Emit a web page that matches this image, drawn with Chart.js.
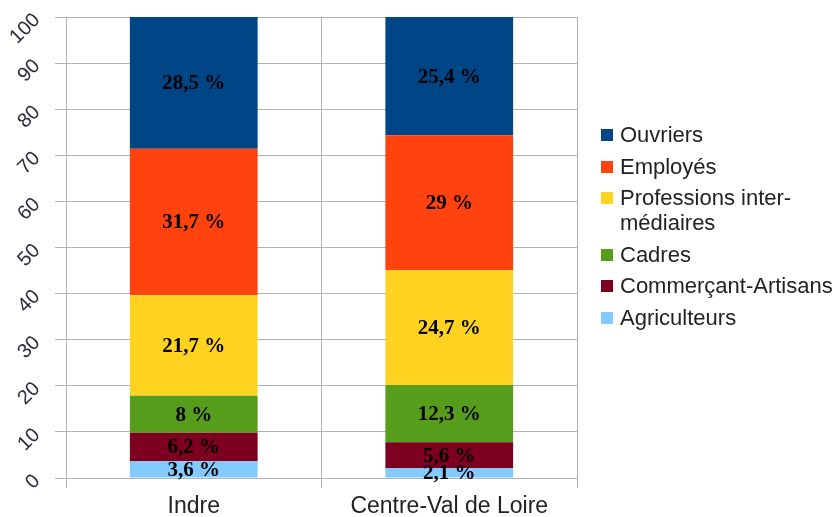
<!DOCTYPE html>
<html>
<head>
<meta charset="utf-8">
<script src="https://cdn.jsdelivr.net/npm/chart.js@4/dist/chart.umd.min.js"></script>
<style>
  html, body { margin: 0; padding: 0; background: #fff; }
  #wrap { position: relative; width: 838px; height: 517px; }
  #legend { position: absolute; left: 601px; top: 122px; font-family: "Liberation Sans", Arial, sans-serif; font-size: 22px; color: #222; }
  .item { position: relative; padding-left: 19px; line-height: 25px; margin-bottom: 6.5px; white-space: pre-line; }
  .box { position: absolute; left: 0; top: 7px; width: 12px; height: 12px; }
</style>
</head>
<body>
<div id="wrap">
  <canvas id="myChart" width="838" height="517"></canvas>
  <div id="legend"></div>
</div>
<script>
const categories = ['Indre', 'Centre-Val de Loire'];
const seriesNames = ['Agriculteurs', 'Commerçant-Artisans', 'Cadres', 'Professions inter-\nmédiaires', 'Employés', 'Ouvriers'];
const seriesColors = ['#83caff', '#7e0021', '#579d1c', '#ffd320', '#ff420e', '#004586'];
const agriculteurs = [3.6, 2.1];
const commercants = [6.2, 5.6];
const cadres = [8, 12.3];
const professions = [21.7, 24.7];
const employes = [31.7, 29];
const ouvriers = [28.5, 25.4];
const yTicks = [0, 10, 20, 30, 40, 50, 60, 70, 80, 90, 100];

const rawSeries = [agriculteurs, commercants, cadres, professions, employes, ouvriers];
// 100% stacked: each column is scaled to its own total
const totals = categories.map((c, i) => rawSeries.reduce((s, arr) => s + arr[i], 0));

const datasets = rawSeries.map((arr, k) => ({
  label: seriesNames[k],
  data: arr.map((v, i) => v / totals[i] * 100),
  raw: arr,
  backgroundColor: seriesColors[k],
  borderWidth: 0,
  barPercentage: 1,
  categoryPercentage: 0.5
}));

const valueLabels = {
  id: 'valueLabels',
  afterDatasetsDraw(chart) {
    const ctx = chart.ctx;
    ctx.save();
    ctx.font = 'bold 21px "Liberation Serif", "Times New Roman", serif';
    ctx.fillStyle = '#000';
    ctx.textAlign = 'center';
    ctx.textBaseline = 'middle';
    chart.data.datasets.forEach((ds, di) => {
      const meta = chart.getDatasetMeta(di);
      meta.data.forEach((bar, i) => {
        const p = bar.getProps(['x', 'y', 'base'], true);
        const txt = String(ds.raw[i]).replace('.', ',') + ' %';
        ctx.fillText(txt, p.x, (p.y + p.base) / 2 + 1);
      });
    });
    ctx.restore();
  }
};

const ctx = document.getElementById('myChart').getContext('2d');
const myChart = new Chart(ctx, {
  type: 'bar',
  data: { labels: categories, datasets: datasets },
  options: {
    responsive: false,
    animation: false,
    layout: { padding: { top: 17, right: 261, left: 0, bottom: 0 } },
    plugins: {
      legend: { display: false },
      tooltip: { enabled: false }
    },
    scales: {
      x: {
        stacked: true,
        grid: { color: '#b3b3b3', offset: true, tickLength: 10 },
        border: { color: '#b3b3b3' },
        ticks: {
          color: '#222',
          padding: 5,
          font: { family: '"Liberation Sans", Arial, sans-serif', size: 23 }
        },
        afterFit(scale) { scale.height = 39; scale.paddingLeft = 0; scale.paddingRight = 0; }
      },
      y: {
        stacked: true,
        min: 0,
        max: 100,
        grid: { color: '#b3b3b3', tickLength: 11 },
        border: { color: '#b3b3b3' },
        ticks: {
          stepSize: 5,
          minRotation: 45,
          maxRotation: 45,
          padding: 18,
          color: '#2b2b3a',
          font: { family: '"Liberation Sans", Arial, sans-serif', size: 20 },
          callback: v => yTicks.includes(v) ? v : ''
        },
        afterFit(scale) { scale.width = 66; scale.paddingTop = 0; scale.paddingBottom = 0; }
      }
    }
  },
  plugins: [valueLabels]
});

// legend, top to bottom in reverse stacking order
const legend = document.getElementById('legend');
for (let k = seriesNames.length - 1; k >= 0; k--) {
  const item = document.createElement('div');
  item.className = 'item';
  item.textContent = seriesNames[k];
  const box = document.createElement('span');
  box.className = 'box';
  box.style.background = seriesColors[k];
  item.appendChild(box);
  legend.appendChild(item);
}
</script>
</body>
</html>
